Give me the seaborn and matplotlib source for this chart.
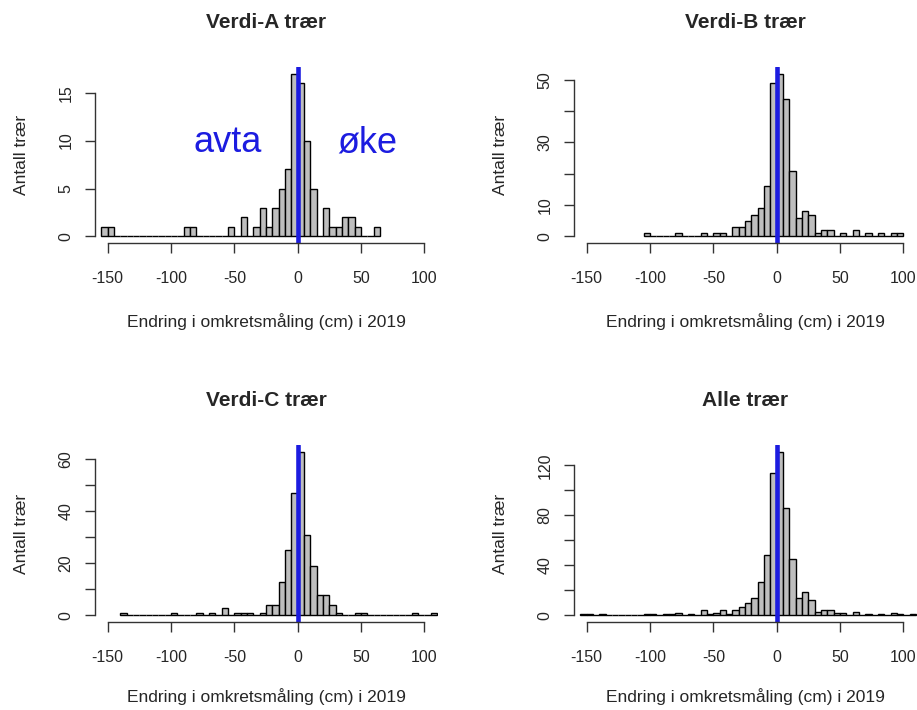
import numpy as np
import pandas as pd
import matplotlib
matplotlib.use("Agg")
import matplotlib.pyplot as plt
import seaborn as sns

# bin width 5 cm; each list gives the left edge of a bin and its count
a_left = [-155, -150, -90, -85, -55, -45, -35, -30, -25, -20, -15, -10, -5, 0, 5, 10, 20, 25, 30, 35, 40, 45, 60]
a_count = [1, 1, 1, 1, 1, 2, 1, 3, 1, 3, 5, 7, 17, 16, 10, 5, 3, 1, 1, 2, 2, 1, 1]

b_left = [-105, -80, -60, -50, -45, -35, -30, -25, -20, -15, -10, -5, 0, 5, 10, 15, 20, 25, 30, 35, 40, 50, 60, 70, 80, 90, 95]
b_count = [1, 1, 1, 1, 1, 3, 3, 5, 7, 9, 16, 49, 52, 44, 21, 6, 8, 7, 1, 2, 2, 1, 2, 1, 1, 1, 1]

c_left = [-140, -100, -80, -70, -60, -50, -45, -40, -30, -25, -20, -15, -10, -5, 0, 5, 10, 15, 20, 25, 30, 45, 50, 90, 105]
c_count = [1, 1, 1, 1, 3, 1, 1, 1, 1, 4, 4, 13, 25, 47, 63, 31, 19, 8, 8, 4, 1, 1, 1, 1, 1]

d_left = [-155, -150, -140, -105, -100, -90, -85, -80, -70, -60, -55, -50, -45, -40, -35, -30, -25, -20, -15, -10,
          -5, 0, 5, 10, 15, 20, 25, 30, 35, 40, 45, 50, 60, 70, 80, 90, 95, 105]
d_count = [1, 1, 1, 1, 1, 1, 1, 2, 1, 4, 1, 2, 4, 1, 4, 7, 10, 14, 27, 48,
           114, 131, 86, 45, 14, 19, 12, 3, 4, 4, 2, 2, 3, 1, 1, 2, 1, 1]

titles = ["Verdi-A trær", "Verdi-B trær", "Verdi-C trær", "Alle trær"]
y_ticks = [[0, 5, 10, 15], [0, 10, 20, 30, 40, 50], [0, 10, 20, 30, 40, 50, 60], [0, 20, 40, 60, 80, 100, 120]]
y_shown = [[0, 5, 10, 15], [0, 10, 30, 50], [0, 20, 40, 60], [0, 40, 80, 120]]
x_ticks = [-150, -100, -50, 0, 50, 100]
xlabel = "Endring i omkretsmåling (cm) i 2019"
ylabel = "Antall trær"

blue = "#1c1ce0"

sns.set_theme(style="ticks")
plt.rcParams['font.family'] = ['Liberation Sans', 'DejaVu Sans']

fig, axes = plt.subplots(2, 2, figsize=(9.17, 7.10), dpi=100)
W, H = 917, 710
rects = [(95, 67, 343, 176), (574, 67, 343, 176), (95, 445, 343, 177), (574, 445, 343, 177)]

panels = [(a_left, a_count), (b_left, b_count), (c_left, c_count), (d_left, d_count)]
for i, (ax, (left, count)) in enumerate(zip(axes.flat, panels)):
    x0, y0, w, h = rects[i]
    ax.set_position([x0 / W, 1 - (y0 + h) / H, w / W, h / H])
    df = pd.DataFrame({"mid": np.array(left, dtype=float) + 2.5, "n": count})
    edges = list(range(min(left), max(left) + 10, 5))
    sns.histplot(data=df, x="mid", weights="n", bins=edges, ax=ax,
                 color="#bebebe", edgecolor="black", linewidth=1, alpha=1)
    ymax = max(count)
    ax.set_ylim(-0.04 * ymax, 1.04 * ymax)
    ax.set_xlim(-160, 110.7)
    ax.axvline(0, color=blue, lw=3.3)

    ax.set_xticks(x_ticks)
    ax.set_xticklabels([str(t) for t in x_ticks])
    ax.set_yticks(y_ticks[i])
    ax.set_yticklabels([str(t) if t in y_shown[i] else "" for t in y_ticks[i]])
    ax.tick_params(axis='both', direction='out', length=7.5, width=1, color='#333333', labelsize=11.5)
    ax.tick_params(axis='x', pad=13)
    ax.tick_params(axis='y', pad=8, labelrotation=90)
    plt.setp(ax.get_yticklabels(), va='center')

    sns.despine(ax=ax)
    ax.spines['bottom'].set_bounds(-150, 100)
    ax.spines['left'].set_bounds(0, y_ticks[i][-1])
    for s in ['bottom', 'left']:
        ax.spines[s].set_color('#333333')
        ax.spines[s].set_linewidth(1)

    ax.set_xlabel(xlabel, fontsize=12.5, labelpad=19 if i < 2 else 16)
    ax.set_ylabel(ylabel, fontsize=12.5, labelpad=21)
    ax.set_title(titles[i], fontsize=15, fontweight='bold', pad=28)

axes[0, 0].text(-55.6, 9.8, "avta", color=blue, fontsize=26, ha='center', va='center')
axes[0, 0].text(54.9, 9.8, "øke", color=blue, fontsize=26, ha='center', va='center')

fig.savefig("out.png", dpi=100)
